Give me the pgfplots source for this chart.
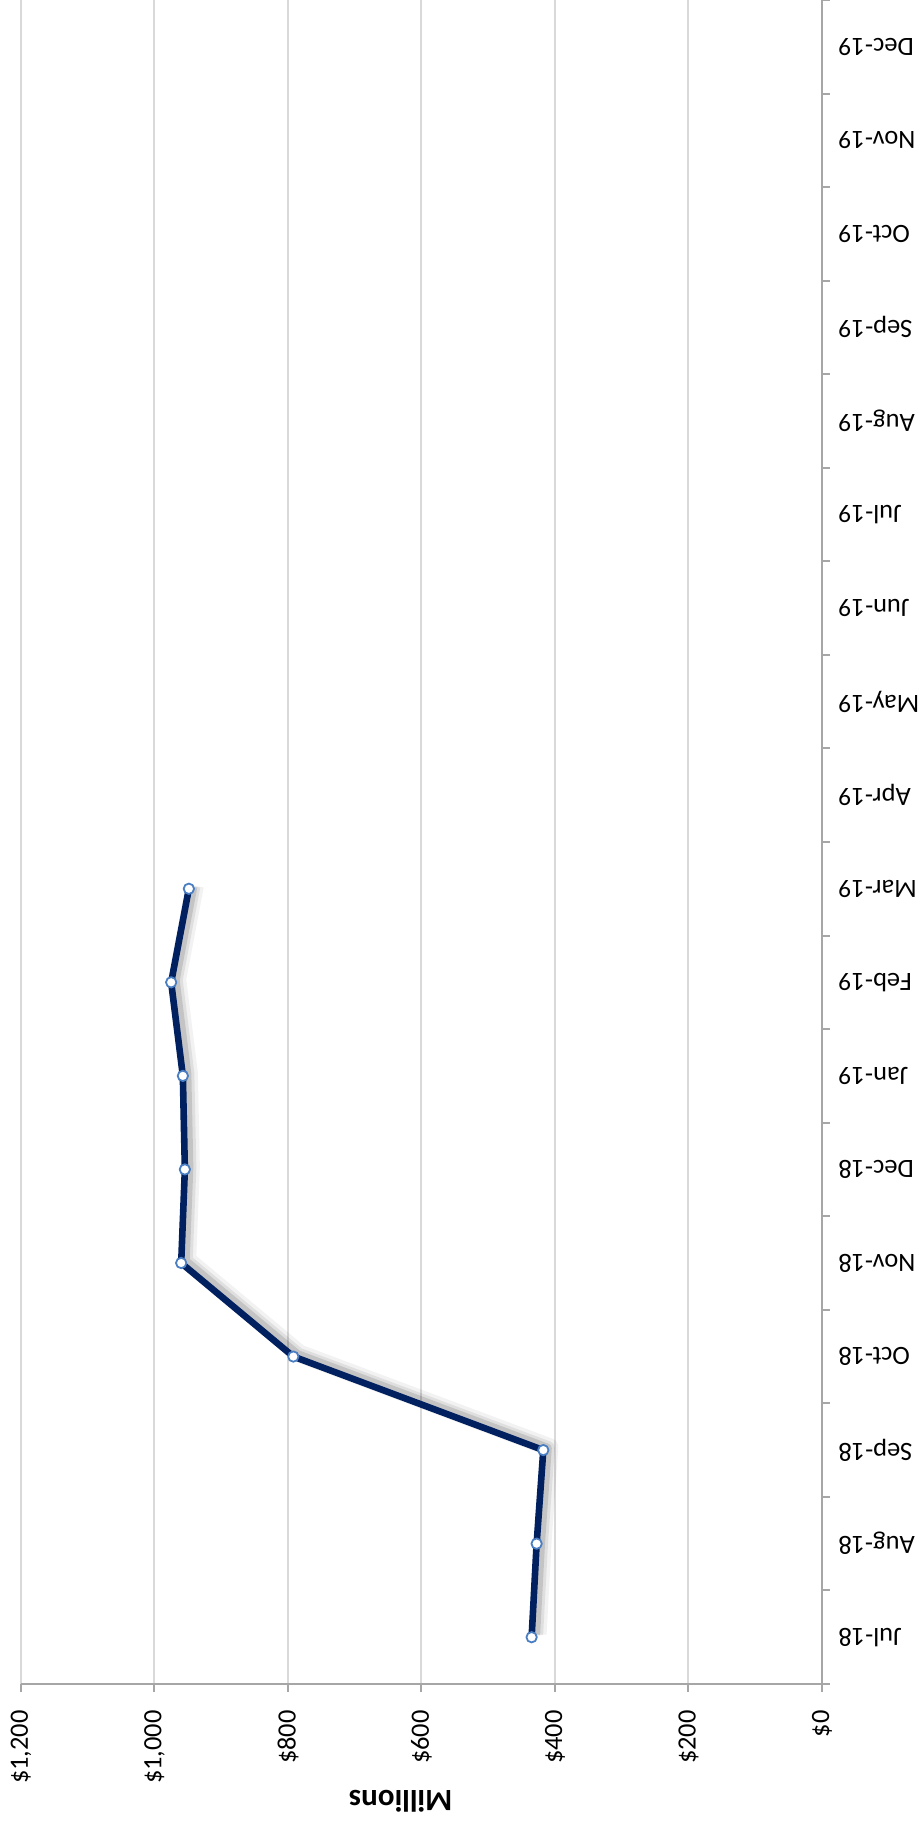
\documentclass[border=0pt]{standalone}
\usepackage{pgfplots}
\pgfplotsset{compat=1.18}
\usepackage{fontspec}
\setmainfont{Carlito}
\definecolor{navy}{HTML}{002060}
\definecolor{mk}{HTML}{4A7EC2}
\definecolor{gridc}{HTML}{D9D9D9}
\definecolor{axc}{HTML}{A6A6A6}
\pgfplotstableread{
idx value
0 435
1 427.5
2 417.5
3 792
4 960
5 954.5
6 957.5
7 975
8 948.5
}\datatable
\begin{document}
\begin{tikzpicture}
\begin{axis}[
  at={(0,0)}, anchor=south west,
  scale only axis, width=400.5pt, height=842pt,
  x dir=reverse,
  xmin=0, xmax=1200, ymin=-0.5, ymax=17.5,
  axis x line*=bottom, axis y line*=right,
  axis line style={axc, line width=1pt, -},
  xtick={0,200,...,1200},
  xticklabels={\$0,\$200,\$400,\$600,\$800,{\$1,000},{\$1,200}},
  xmajorgrids, grid style={gridc, line width=1pt},
  ytick={0,...,17},
  yticklabels={Jul-18,Aug-18,Sep-18,Oct-18,Nov-18,Dec-18,Jan-19,Feb-19,Mar-19,Apr-19,May-19,Jun-19,Jul-19,Aug-19,Sep-19,Oct-19,Nov-19,Dec-19},
  minor ytick={-0.5,0.5,...,17.5},
  major y tick style={draw=none},
  tick align=outside, major tick length=4pt, minor tick length=4pt,
  tick style={axc, line width=1pt},
  /pgf/number format/assume math mode=true,
  xticklabel style={rotate=90, anchor=east, inner sep=0pt, font=\fontsize{13.2}{15}\selectfont},
  yticklabel style={rotate=180, anchor=east, inner sep=0pt, font=\fontsize{13.2}{15}\selectfont},
  xticklabel shift=9pt,
  yticklabel shift=4pt,
  xlabel={Millions},
  xlabel style={at={(axis description cs:0.474,0)}, anchor=center, yshift=-58.5pt, rotate=180, font=\fontsize{15.5}{18}\selectfont\bfseries},
  clip=false,
]
\addplot[black, opacity=0.05, line width=9pt, line join=round, xshift=3pt, yshift=1.5pt, forget plot] table[x=value, y=idx] {\datatable};
\addplot[black, opacity=0.08, line width=6.5pt, line join=round, xshift=2.5pt, yshift=1.2pt, forget plot] table[x=value, y=idx] {\datatable};
\addplot[black, opacity=0.12, line width=4.5pt, line join=round, xshift=2pt, yshift=1pt, forget plot] table[x=value, y=idx] {\datatable};
\addplot[navy, line width=3.3pt, line join=round, mark=*, mark size=2.6pt, mark options={fill=white, draw=mk, line width=0.9pt}] table[x=value, y=idx] {\datatable};
\end{axis}
\pgfresetboundingbox
\path[use as bounding box] (-10.5pt,-69pt) rectangle (450pt,842pt);
\end{tikzpicture}
\end{document}
